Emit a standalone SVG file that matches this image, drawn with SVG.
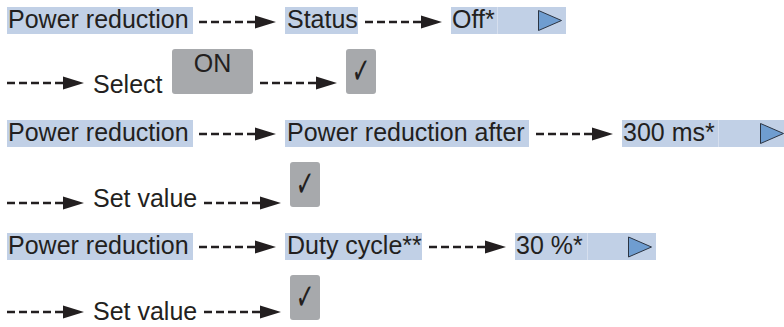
<svg xmlns="http://www.w3.org/2000/svg" width="784" height="327" viewBox="0 0 784 327">
<style>
.t{font-family:"Liberation Sans",Arial,sans-serif;font-size:25px;fill:#231f20}
.hl{fill:#c1d0e6}
.div{stroke:#d6dfee;stroke-width:1}
.btn{fill:#a7a9ac}
.tri{fill:#6f9dd0;stroke:#2b3442;stroke-width:1}
.ck{font-family:"DejaVu Sans",sans-serif;font-size:36px;fill:#231f20}
.c line{stroke:#231f20;stroke-width:2.6;stroke-dasharray:8 4;marker-end:url(#ah)}
</style>
<defs>
<marker id="ah" markerWidth="22" markerHeight="14" refX="1" refY="7" orient="auto" markerUnits="userSpaceOnUse">
<path d="M0,0.5 L21,7 L0,13.5 z" fill="#231f20"/>
</marker>
</defs>
<rect width="784" height="327" fill="#fff"/>

<g id="r1-power"><rect class="hl" x="7" y="7" width="186" height="27"/><text class="t" x="8" y="28">Power reduction</text></g>
<g id="r1-status"><rect class="hl" x="285" y="7" width="73" height="27"/><text class="t" x="287" y="28">Status</text></g>
<g id="r1-off"><rect class="hl" x="451" y="7" width="115" height="27"/><line class="div" x1="497.5" y1="7" x2="497.5" y2="34"/><text class="t" x="452" y="28">Off*</text><polygon class="tri" points="538.5,10.5 561.5,20.5 538.5,30.5"/></g>

<g id="r2-select"><text class="t" x="93" y="93">Select</text></g>
<g id="r2-on"><rect class="btn" x="172" y="49" width="81" height="45" rx="3"/><text class="t" x="212.5" y="72" text-anchor="middle">ON</text></g>
<g id="r2-ok"><rect class="btn" x="346" y="49" width="30" height="45" rx="3"/><text class="ck" transform="translate(361,83) scale(0.62,1)" text-anchor="middle">✓</text></g>

<g id="r3-power"><rect class="hl" x="7" y="120" width="186" height="27"/><text class="t" x="8" y="141">Power reduction</text></g>
<g id="r3-after"><rect class="hl" x="285" y="120" width="244" height="27"/><text class="t" x="287" y="141">Power reduction after</text></g>
<g id="r3-300"><rect class="hl" x="622" y="120" width="162" height="27"/><line class="div" x1="718.5" y1="120" x2="718.5" y2="147"/><text class="t" x="623" y="141">300 ms*</text><polygon class="tri" points="760.5,123.5 783.5,133.5 760.5,143.5"/></g>

<g id="r4-set"><text class="t" x="93" y="207">Set value</text></g>
<g id="r4-ok"><rect class="btn" x="290" y="162" width="30" height="45" rx="3"/><text class="ck" transform="translate(305,196) scale(0.62,1)" text-anchor="middle">✓</text></g>

<g id="r5-power"><rect class="hl" x="7" y="233" width="186" height="27"/><text class="t" x="8" y="254">Power reduction</text></g>
<g id="r5-duty"><rect class="hl" x="285" y="233" width="137" height="27"/><text class="t" x="287" y="254">Duty cycle**</text></g>
<g id="r5-30"><rect class="hl" x="515" y="233" width="141" height="27"/><line class="div" x1="587.5" y1="233" x2="587.5" y2="260"/><text class="t" x="516" y="254">30 %*</text><polygon class="tri" points="628.5,237 651.5,247 628.5,257"/></g>

<g id="r6-set"><text class="t" x="93" y="320">Set value</text></g>
<g id="r6-ok"><rect class="btn" x="290" y="275" width="30" height="45" rx="3"/><text class="ck" transform="translate(305,309) scale(0.62,1)" text-anchor="middle">✓</text></g>

<g id="connectors" class="c">
<line x1="199" y1="22" x2="256" y2="22"/>
<line x1="365" y1="22" x2="422" y2="22"/>
<line x1="7" y1="83" x2="64" y2="83"/>
<line x1="260" y1="83" x2="317" y2="83"/>
<line x1="199" y1="134" x2="256" y2="134"/>
<line x1="536" y1="134" x2="593" y2="134"/>
<line x1="7" y1="203" x2="64" y2="203"/>
<line x1="204" y1="203" x2="261" y2="203"/>
<line x1="199" y1="247" x2="256" y2="247"/>
<line x1="429" y1="247" x2="486" y2="247"/>
<line x1="7" y1="312" x2="64" y2="312"/>
<line x1="204" y1="312" x2="261" y2="312"/>
</g>
</svg>
